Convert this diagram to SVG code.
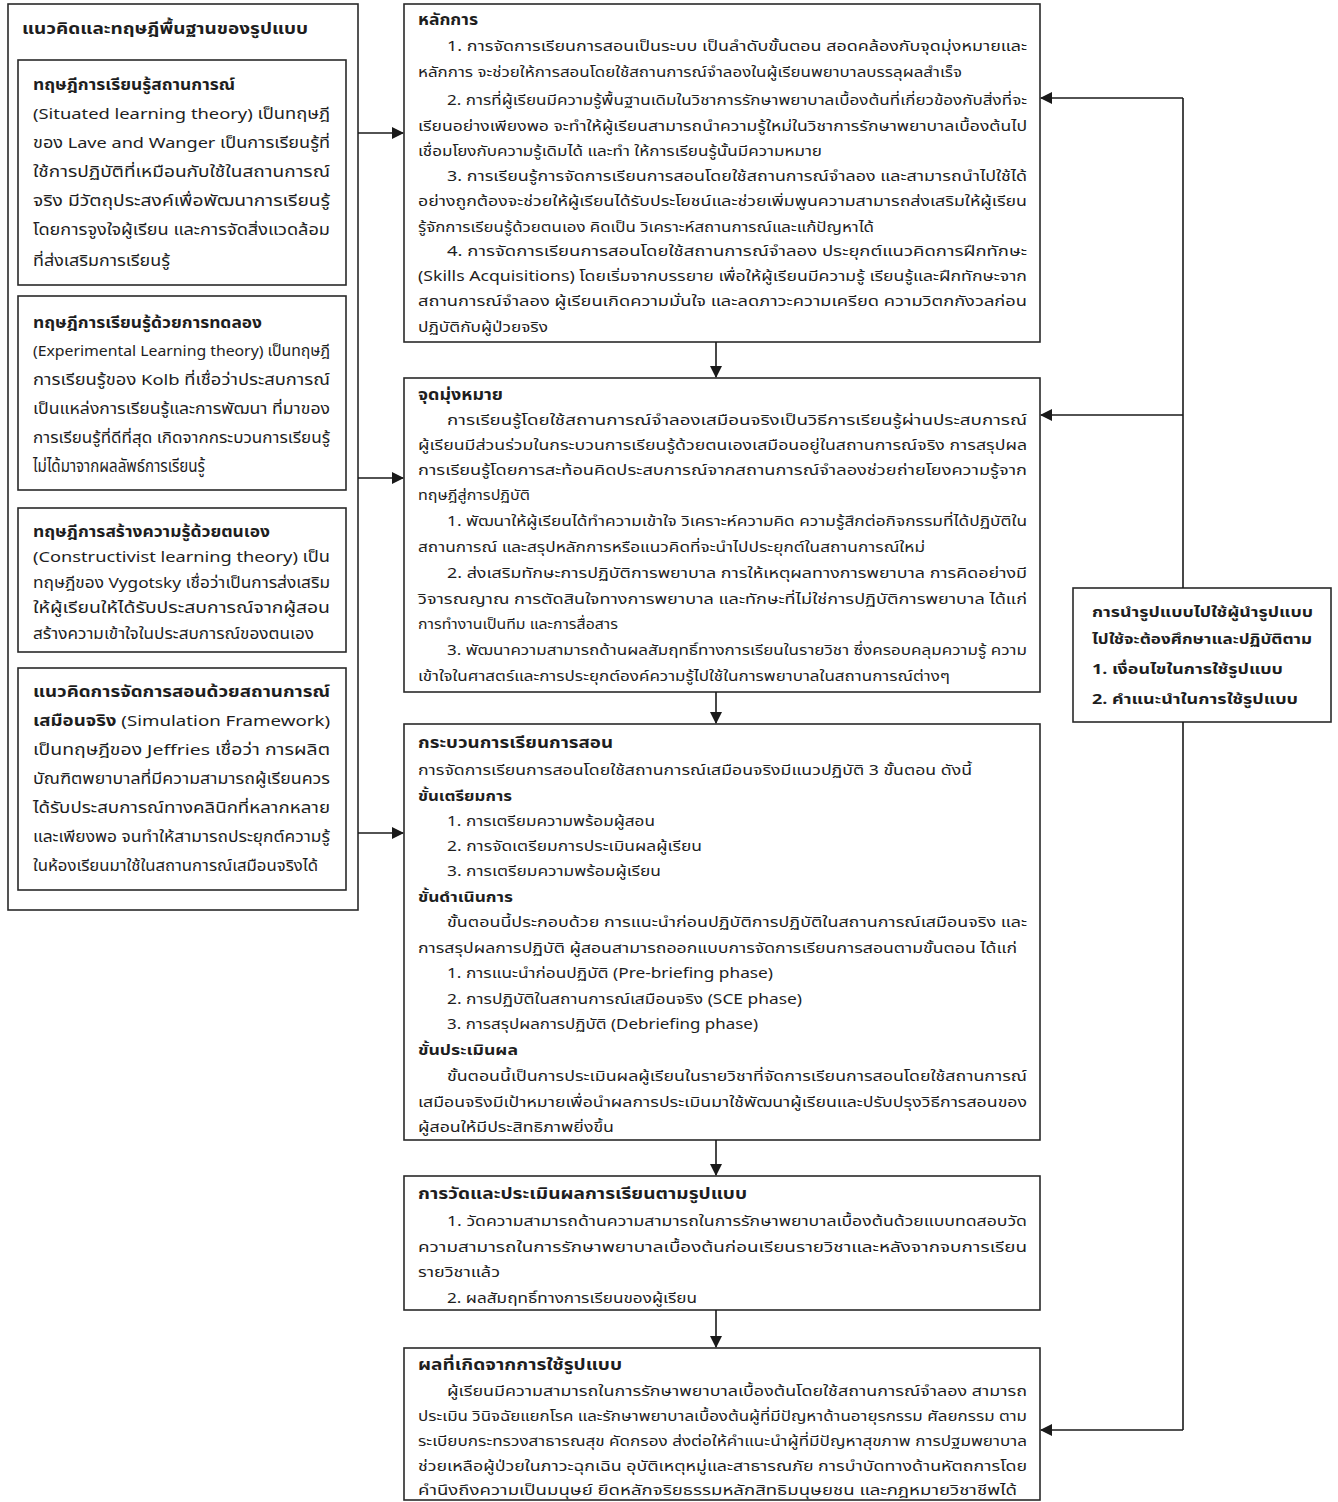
<svg xmlns="http://www.w3.org/2000/svg" width="1338" height="1502" viewBox="0 0 1338 1502" lang="th" xml:lang="th">
<defs>
<marker id="ah" markerUnits="userSpaceOnUse" markerWidth="12" markerHeight="12" refX="11" refY="6" orient="auto"><path d="M0,0 L12,6 L0,12 z" fill="#1a1a1a"/></marker>
<style>
.box{fill:#fff;stroke:#2a2a2a;stroke-width:1.6}
.t{font-family:"Noto Sans Thai","Noto Sans Thai UI","Noto Sans","DejaVu Sans",sans-serif;font-size:14px;fill:#1e1e1e}
.l{font-size:15px}
.b{font-weight:bold}
.h{font-weight:bold;font-size:15px}
.c{stroke:#1a1a1a;stroke-width:1.6;fill:none}
</style>
</defs>
<rect width="1338" height="1502" fill="#fff"/>

<g id="n-foundation">
<rect class="box" x="8" y="4" width="350" height="906"/>
<text class="t h" x="22" y="34" style="font-size:16px" textLength="286" lengthAdjust="spacingAndGlyphs">แนวคิดและทฤษฎีพื้นฐานของรูปแบบ</text>
</g>

<g id="n-situated">
<rect class="box" x="18" y="60" width="328" height="225"/>
<text class="t l b" x="33" y="90" textLength="202" lengthAdjust="spacingAndGlyphs">ทฤษฎีการเรียนรู้สถานการณ์</text>
<text class="t l" x="33" y="119" textLength="297" lengthAdjust="spacingAndGlyphs">(Situated learning theory) เป็นทฤษฎี</text>
<text class="t l" x="33" y="148" textLength="297" lengthAdjust="spacingAndGlyphs">ของ Lave and Wanger เป็นการเรียนรู้ที่</text>
<text class="t l" x="33" y="177" textLength="297" lengthAdjust="spacingAndGlyphs">ใช้การปฏิบัติที่เหมือนกับใช้ในสถานการณ์</text>
<text class="t l" x="33" y="206" textLength="297" lengthAdjust="spacingAndGlyphs">จริง มีวัตถุประสงค์เพื่อพัฒนาการเรียนรู้</text>
<text class="t l" x="33" y="235" textLength="297" lengthAdjust="spacingAndGlyphs">โดยการจูงใจผู้เรียน และการจัดสิ่งแวดล้อม</text>
<text class="t l" x="33" y="266" textLength="137" lengthAdjust="spacingAndGlyphs">ที่ส่งเสริมการเรียนรู้</text>
</g>

<g id="n-experimental">
<rect class="box" x="18" y="296" width="328" height="194"/>
<text class="t l b" x="33" y="328" textLength="229" lengthAdjust="spacingAndGlyphs">ทฤษฎีการเรียนรู้ด้วยการทดลอง</text>
<text class="t l" x="33" y="356" textLength="297" lengthAdjust="spacingAndGlyphs">(Experimental Learning theory) เป็นทฤษฎี</text>
<text class="t l" x="33" y="385" textLength="297" lengthAdjust="spacingAndGlyphs">การเรียนรู้ของ Kolb  ที่เชื่อว่าประสบการณ์</text>
<text class="t l" x="33" y="414" textLength="297" lengthAdjust="spacingAndGlyphs">เป็นแหล่งการเรียนรู้และการพัฒนา ที่มาของ</text>
<text class="t l" x="33" y="443" textLength="297" lengthAdjust="spacingAndGlyphs">การเรียนรู้ที่ดีที่สุด เกิดจากกระบวนการเรียนรู้</text>
<text class="t" x="33" y="472" style="font-size:17.5px" textLength="172" lengthAdjust="spacingAndGlyphs">ไม่ได้มาจากผลลัพธ์การเรียนรู้</text>
</g>

<g id="n-constructivist">
<rect class="box" x="18" y="508" width="328" height="144"/>
<text class="t l b" x="33" y="537" textLength="237" lengthAdjust="spacingAndGlyphs">ทฤษฎีการสร้างความรู้ด้วยตนเอง</text>
<text class="t l" x="33" y="562" textLength="297" lengthAdjust="spacingAndGlyphs">(Constructivist  learning  theory)  เป็น</text>
<text class="t l" x="33" y="588" textLength="297" lengthAdjust="spacingAndGlyphs">ทฤษฎีของ Vygotsky เชื่อว่าเป็นการส่งเสริม</text>
<text class="t l" x="33" y="613" textLength="297" lengthAdjust="spacingAndGlyphs">ให้ผู้เรียนให้ได้รับประสบการณ์จากผู้สอน</text>
<text class="t l" x="33" y="639" textLength="281" lengthAdjust="spacingAndGlyphs">สร้างความเข้าใจในประสบการณ์ของตนเอง</text>
</g>

<g id="n-simulation">
<rect class="box" x="18" y="668" width="328" height="222"/>
<text class="t l b" x="33" y="697" textLength="297" lengthAdjust="spacingAndGlyphs">แนวคิดการจัดการสอนด้วยสถานการณ์</text>
<text class="t l" x="33" y="726" textLength="297" lengthAdjust="spacingAndGlyphs"><tspan class="b">เสมือนจริง</tspan> (Simulation  Framework)</text>
<text class="t l" x="33" y="755" textLength="297" lengthAdjust="spacingAndGlyphs">เป็นทฤษฎีของ Jeffries เชื่อว่า    การผลิต</text>
<text class="t l" x="33" y="784" textLength="297" lengthAdjust="spacingAndGlyphs">บัณฑิตพยาบาลที่มีความสามารถผู้เรียนควร</text>
<text class="t l" x="33" y="813" textLength="297" lengthAdjust="spacingAndGlyphs">ได้รับประสบการณ์ทางคลินิกที่หลากหลาย</text>
<text class="t l" x="33" y="842" textLength="297" lengthAdjust="spacingAndGlyphs">และเพียงพอ จนทำให้สามารถประยุกต์ความรู้</text>
<text class="t l" x="33" y="871" textLength="285" lengthAdjust="spacingAndGlyphs">ในห้องเรียนมาใช้ในสถานการณ์เสมือนจริงได้</text>
</g>

<g id="n-principles">
<rect class="box" x="404" y="4" width="636" height="338"/>
<text class="t h" x="418" y="25" textLength="60" lengthAdjust="spacingAndGlyphs">หลักการ</text>
<text class="t" x="447" y="51" textLength="580" lengthAdjust="spacingAndGlyphs">1. การจัดการเรียนการสอนเป็นระบบ  เป็นลำดับขั้นตอน  สอดคล้องกับจุดมุ่งหมายและ</text>
<text class="t" x="418" y="77" textLength="544" lengthAdjust="spacingAndGlyphs">หลักการ จะช่วยให้การสอนโดยใช้สถานการณ์จำลองในผู้เรียนพยาบาลบรรลุผลสำเร็จ</text>
<text class="t" x="447" y="105" textLength="580" lengthAdjust="spacingAndGlyphs">2. การที่ผู้เรียนมีความรู้พื้นฐานเดิมในวิชาการรักษาพยาบาลเบื้องต้นที่เกี่ยวข้องกับสิ่งที่จะ</text>
<text class="t" x="418" y="131" textLength="609" lengthAdjust="spacingAndGlyphs">เรียนอย่างเพียงพอ จะทำให้ผู้เรียนสามารถนำความรู้ใหม่ในวิชาการรักษาพยาบาลเบื้องต้นไป</text>
<text class="t" x="418" y="156" textLength="404" lengthAdjust="spacingAndGlyphs">เชื่อมโยงกับความรู้เดิมได้ และทำ ให้การเรียนรู้นั้นมีความหมาย</text>
<text class="t" x="447" y="181" textLength="580" lengthAdjust="spacingAndGlyphs">3. การเรียนรู้การจัดการเรียนการสอนโดยใช้สถานการณ์จำลอง  และสามารถนำไปใช้ได้</text>
<text class="t" x="418" y="206" textLength="609" lengthAdjust="spacingAndGlyphs">อย่างถูกต้องจะช่วยให้ผู้เรียนได้รับประโยชน์และช่วยเพิ่มพูนความสามารถส่งเสริมให้ผู้เรียน</text>
<text class="t" x="418" y="232" textLength="456" lengthAdjust="spacingAndGlyphs">รู้จักการเรียนรู้ด้วยตนเอง คิดเป็น วิเคราะห์สถานการณ์และแก้ปัญหาได้</text>
<text class="t" x="447" y="256" textLength="580" lengthAdjust="spacingAndGlyphs">4. การจัดการเรียนการสอนโดยใช้สถานการณ์จำลอง  ประยุกต์แนวคิดการฝึกทักษะ</text>
<text class="t" x="418" y="281" textLength="609" lengthAdjust="spacingAndGlyphs">(Skills Acquisitions) โดยเริ่มจากบรรยาย เพื่อให้ผู้เรียนมีความรู้ เรียนรู้และฝึกทักษะจาก</text>
<text class="t" x="418" y="306" textLength="609" lengthAdjust="spacingAndGlyphs">สถานการณ์จำลอง ผู้เรียนเกิดความมั่นใจ และลดภาวะความเครียด ความวิตกกังวลก่อน</text>
<text class="t" x="418" y="332" textLength="130" lengthAdjust="spacingAndGlyphs">ปฏิบัติกับผู้ป่วยจริง</text>
</g>

<g id="n-objectives">
<rect class="box" x="404" y="378" width="636" height="314"/>
<text class="t h" x="418" y="400" textLength="85" lengthAdjust="spacingAndGlyphs">จุดมุ่งหมาย</text>
<text class="t" x="447" y="425" textLength="580" lengthAdjust="spacingAndGlyphs">การเรียนรู้โดยใช้สถานการณ์จำลองเสมือนจริงเป็นวิธีการเรียนรู้ผ่านประสบการณ์</text>
<text class="t" x="418" y="450" textLength="609" lengthAdjust="spacingAndGlyphs">ผู้เรียนมีส่วนร่วมในกระบวนการเรียนรู้ด้วยตนเองเสมือนอยู่ในสถานการณ์จริง การสรุปผล</text>
<text class="t" x="418" y="475" textLength="609" lengthAdjust="spacingAndGlyphs">การเรียนรู้โดยการสะท้อนคิดประสบการณ์จากสถานการณ์จำลองช่วยถ่ายโยงความรู้จาก</text>
<text class="t" x="418" y="500" textLength="112" lengthAdjust="spacingAndGlyphs">ทฤษฎีสู่การปฏิบัติ</text>
<text class="t" x="447" y="526" textLength="580" lengthAdjust="spacingAndGlyphs">1. พัฒนาให้ผู้เรียนได้ทำความเข้าใจ วิเคราะห์ความคิด ความรู้สึกต่อกิจกรรมที่ได้ปฏิบัติใน</text>
<text class="t" x="418" y="552" textLength="507" lengthAdjust="spacingAndGlyphs">สถานการณ์ และสรุปหลักการหรือแนวคิดที่จะนำไปประยุกต์ในสถานการณ์ใหม่</text>
<text class="t" x="447" y="578" textLength="580" lengthAdjust="spacingAndGlyphs">2. ส่งเสริมทักษะการปฏิบัติการพยาบาล การให้เหตุผลทางการพยาบาล การคิดอย่างมี</text>
<text class="t" x="418" y="604" textLength="609" lengthAdjust="spacingAndGlyphs">วิจารณญาณ การตัดสินใจทางการพยาบาล และทักษะที่ไม่ใช่การปฏิบัติการพยาบาล ได้แก่</text>
<text class="t" x="418" y="629" textLength="200" lengthAdjust="spacingAndGlyphs">การทำงานเป็นทีม และการสื่อสาร</text>
<text class="t" x="447" y="655" textLength="580" lengthAdjust="spacingAndGlyphs">3. พัฒนาความสามารถด้านผลสัมฤทธิ์ทางการเรียนในรายวิชา ซึ่งครอบคลุมความรู้ ความ</text>
<text class="t" x="418" y="681" textLength="532" lengthAdjust="spacingAndGlyphs">เข้าใจในศาสตร์และการประยุกต์องค์ความรู้ไปใช้ในการพยาบาลในสถานการณ์ต่างๆ</text>
</g>

<g id="n-process">
<rect class="box" x="404" y="724" width="636" height="416"/>
<text class="t h" x="418" y="748" textLength="195" lengthAdjust="spacingAndGlyphs">กระบวนการเรียนการสอน</text>
<text class="t" x="418" y="775" textLength="554" lengthAdjust="spacingAndGlyphs">การจัดการเรียนการสอนโดยใช้สถานการณ์เสมือนจริงมีแนวปฏิบัติ 3 ขั้นตอน ดังนี้</text>
<text class="t b" x="418" y="801" textLength="94" lengthAdjust="spacingAndGlyphs">ขั้นเตรียมการ</text>
<text class="t" x="447" y="826" textLength="208" lengthAdjust="spacingAndGlyphs">1. การเตรียมความพร้อมผู้สอน</text>
<text class="t" x="447" y="851" textLength="255" lengthAdjust="spacingAndGlyphs">2. การจัดเตรียมการประเมินผลผู้เรียน</text>
<text class="t" x="447" y="876" textLength="214" lengthAdjust="spacingAndGlyphs">3. การเตรียมความพร้อมผู้เรียน</text>
<text class="t b" x="418" y="902" textLength="95" lengthAdjust="spacingAndGlyphs">ขั้นดำเนินการ</text>
<text class="t" x="447" y="927" textLength="580" lengthAdjust="spacingAndGlyphs">ขั้นตอนนี้ประกอบด้วย การแนะนำก่อนปฏิบัติการปฏิบัติในสถานการณ์เสมือนจริง และ</text>
<text class="t" x="418" y="953" textLength="599" lengthAdjust="spacingAndGlyphs">การสรุปผลการปฏิบัติ ผู้สอนสามารถออกแบบการจัดการเรียนการสอนตามขั้นตอน ได้แก่</text>
<text class="t" x="447" y="978" textLength="326" lengthAdjust="spacingAndGlyphs">1. การแนะนำก่อนปฏิบัติ (Pre-briefing phase)</text>
<text class="t" x="447" y="1004" textLength="355" lengthAdjust="spacingAndGlyphs">2. การปฏิบัติในสถานการณ์เสมือนจริง (SCE phase)</text>
<text class="t" x="447" y="1029" textLength="311" lengthAdjust="spacingAndGlyphs">3. การสรุปผลการปฏิบัติ (Debriefing phase)</text>
<text class="t b" x="418" y="1055" textLength="100" lengthAdjust="spacingAndGlyphs">ขั้นประเมินผล</text>
<text class="t" x="447" y="1081" textLength="580" lengthAdjust="spacingAndGlyphs">ขั้นตอนนี้เป็นการประเมินผลผู้เรียนในรายวิชาที่จัดการเรียนการสอนโดยใช้สถานการณ์</text>
<text class="t" x="418" y="1107" textLength="609" lengthAdjust="spacingAndGlyphs">เสมือนจริงมีเป้าหมายเพื่อนำผลการประเมินมาใช้พัฒนาผู้เรียนและปรับปรุงวิธีการสอนของ</text>
<text class="t" x="418" y="1132" textLength="196" lengthAdjust="spacingAndGlyphs">ผู้สอนให้มีประสิทธิภาพยิ่งขึ้น</text>
</g>

<g id="n-evaluation">
<rect class="box" x="404" y="1176" width="636" height="134"/>
<text class="t h" x="418" y="1199" textLength="329" lengthAdjust="spacingAndGlyphs">การวัดและประเมินผลการเรียนตามรูปแบบ</text>
<text class="t" x="447" y="1226" textLength="580" lengthAdjust="spacingAndGlyphs">1. วัดความสามารถด้านความสามารถในการรักษาพยาบาลเบื้องต้นด้วยแบบทดสอบวัด</text>
<text class="t" x="418" y="1252" textLength="609" lengthAdjust="spacingAndGlyphs">ความสามารถในการรักษาพยาบาลเบื้องต้นก่อนเรียนรายวิชาและหลังจากจบการเรียน</text>
<text class="t" x="418" y="1277" textLength="82" lengthAdjust="spacingAndGlyphs">รายวิชาแล้ว</text>
<text class="t" x="447" y="1303" textLength="250" lengthAdjust="spacingAndGlyphs">2. ผลสัมฤทธิ์ทางการเรียนของผู้เรียน</text>
</g>

<g id="n-outcomes">
<rect class="box" x="404" y="1348" width="636" height="152"/>
<text class="t h" x="418" y="1370" textLength="204" lengthAdjust="spacingAndGlyphs">ผลที่เกิดจากการใช้รูปแบบ</text>
<text class="t" x="447" y="1396" textLength="580" lengthAdjust="spacingAndGlyphs">ผู้เรียนมีความสามารถในการรักษาพยาบาลเบื้องต้นโดยใช้สถานการณ์จำลอง สามารถ</text>
<text class="t" x="418" y="1421" textLength="609" lengthAdjust="spacingAndGlyphs">ประเมิน วินิจฉัยแยกโรค และรักษาพยาบาลเบื้องต้นผู้ที่มีปัญหาด้านอายุรกรรม ศัลยกรรม ตาม</text>
<text class="t" x="418" y="1446" textLength="609" lengthAdjust="spacingAndGlyphs">ระเบียบกระทรวงสาธารณสุข คัดกรอง ส่งต่อให้คำแนะนำผู้ที่มีปัญหาสุขภาพ การปฐมพยาบาล</text>
<text class="t" x="418" y="1471" textLength="609" lengthAdjust="spacingAndGlyphs">ช่วยเหลือผู้ป่วยในภาวะฉุกเฉิน อุบัติเหตุหมู่และสาธารณภัย การบำบัดทางด้านหัตถการโดย</text>
<text class="t" x="418" y="1495" textLength="599" lengthAdjust="spacingAndGlyphs">คำนึงถึงความเป็นมนุษย์ ยึดหลักจริยธรรมหลักสิทธิมนุษยชน และกฎหมายวิชาชีพได้</text>
</g>

<g id="n-application">
<rect class="box" x="1073" y="588" width="258" height="134"/>
<text class="t b" x="1092" y="617" textLength="221" lengthAdjust="spacingAndGlyphs">การนำรูปแบบไปใช้ผู้นำรูปแบบ</text>
<text class="t b" x="1092" y="644" textLength="220" lengthAdjust="spacingAndGlyphs">ไปใช้จะต้องศึกษาและปฏิบัติตาม</text>
<text class="t b" x="1092" y="674" textLength="191" lengthAdjust="spacingAndGlyphs">1. เงื่อนไขในการใช้รูปแบบ</text>
<text class="t b" x="1092" y="704" textLength="206" lengthAdjust="spacingAndGlyphs">2. คำแนะนำในการใช้รูปแบบ</text>
</g>

<g id="connectors">
<line class="c" x1="358" y1="133" x2="403" y2="133" marker-end="url(#ah)"/>
<line class="c" x1="358" y1="478" x2="403" y2="478" marker-end="url(#ah)"/>
<line class="c" x1="358" y1="833" x2="403" y2="833" marker-end="url(#ah)"/>
<line class="c" x1="716" y1="342" x2="716" y2="377" marker-end="url(#ah)"/>
<line class="c" x1="716" y1="692" x2="716" y2="723" marker-end="url(#ah)"/>
<line class="c" x1="716" y1="1140" x2="716" y2="1175" marker-end="url(#ah)"/>
<line class="c" x1="716" y1="1310" x2="716" y2="1347" marker-end="url(#ah)"/>
<path class="c" d="M1183,98 V588"/>
<path class="c" d="M1183,722 V1430"/>
<line class="c" x1="1183" y1="98" x2="1041" y2="98" marker-end="url(#ah)"/>
<line class="c" x1="1183" y1="415" x2="1041" y2="415" marker-end="url(#ah)"/>
<line class="c" x1="1183" y1="1430" x2="1041" y2="1430" marker-end="url(#ah)"/>
</g>
</svg>
